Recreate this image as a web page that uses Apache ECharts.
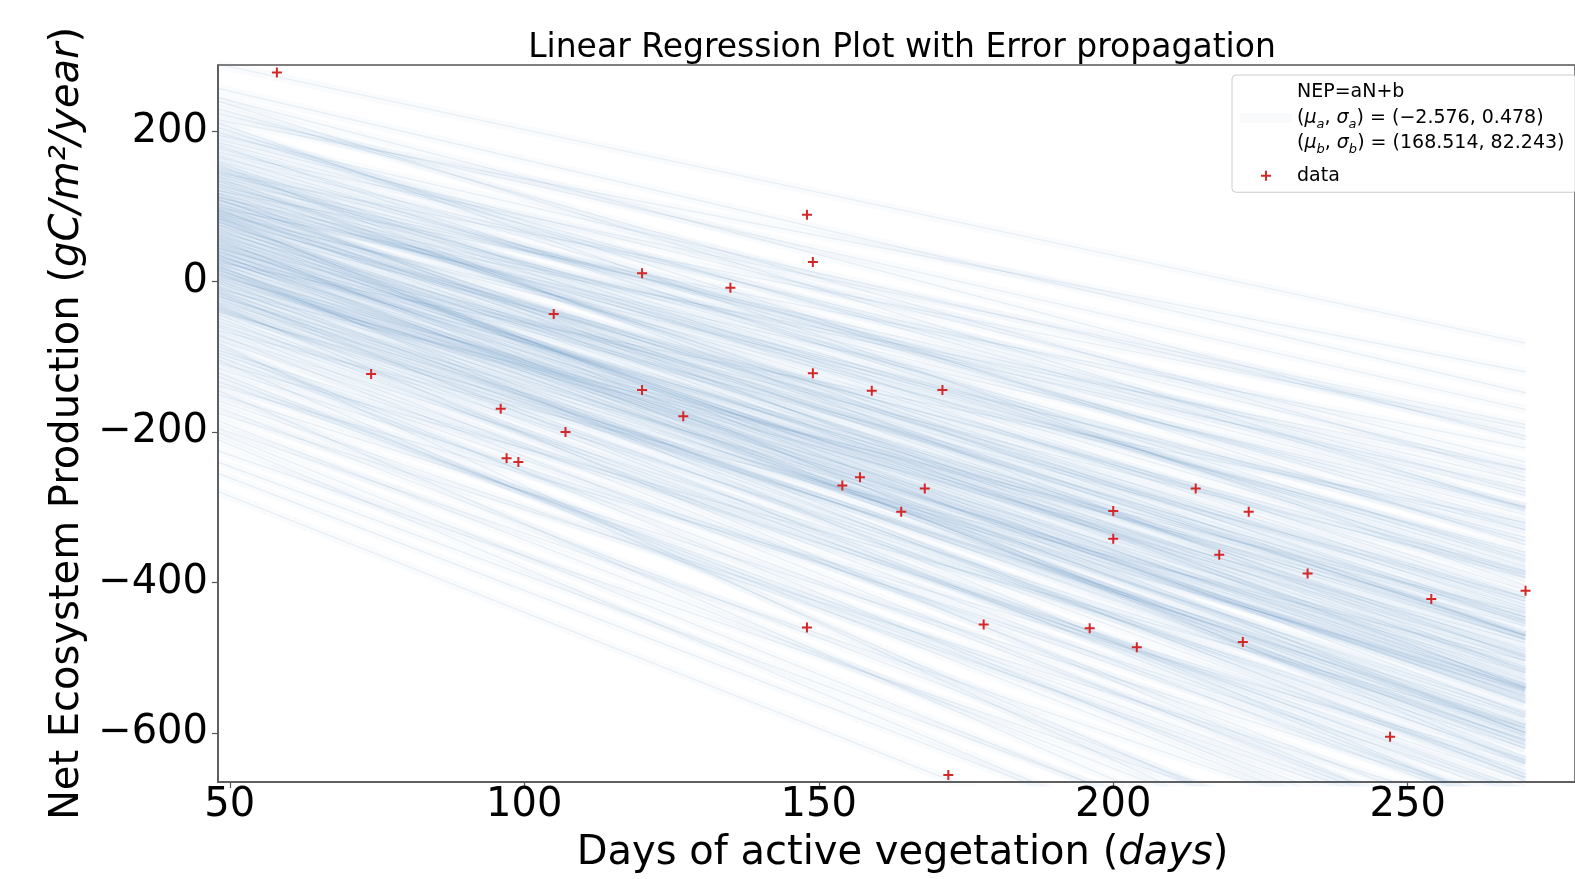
<!DOCTYPE html>
<html>
<head>
<meta charset="utf-8">
<title>Linear Regression Plot with Error propagation</title>
<script src="https://cdn.jsdelivr.net/npm/echarts@6/dist/echarts.min.js"></script>
<style>
  html, body { margin: 0; padding: 0; background: #fff; }
  #chart { width: 1575px; height: 879px; }
</style>
</head>
<body>
<div id="chart"></div>
<script>
// observed data: days of active vegetation vs NEP
const days = [58, 148, 149, 120, 135, 105, 74, 149, 120, 159, 96, 127, 107, 97, 99, 154, 157, 148,
  171, 168, 164, 214, 200, 223, 200, 218, 233, 254, 270, 178, 196, 204, 222, 247, 172]
const nep = [278, 89, 26, 11, -8, -43, -123, -122, -144, -145, -169, -179, -200, -235, -240, -271, -260, -460,
  -144, -275, -306, -275, -305, -306, -342, -363, -388, -422, -411, -456, -461, -486, -479, -605, -656]

// sampled regression lines (NEP at the two ends of the drawn range)
const lineX = [48, 270]
const lineStartY = [289, 257, 240, 223, 211, 198, 189, 181, 172, 168, 160, 155, 147, 143, 138, 130, 126, 121, 117, 113,
  109, 104, 100, 96, 92, 87, 83, 79, 75, 70, 68, 64, 60, 57, 53, 50, 47, 45, 42, 40,
  36, 33, 30, 26, 22, 19, 15, 11, 7, 2, -2, -6, -10, -14, -19, -23, -27, -31, -36, -40,
  -48, -53, -57, -65, -70, -78, -82, -91, -99, -108, -121, -133, -150, -167, -201, -279, -240,
  118, 102, 88, 76, 66, 58, 49, 38, 31, 24, 12, 4, -8, -16, -29, 134, 93, 55, 17, -44, 150, 80, 28,
  245, 230, 215, 205, 195, 185, 178, 165, 158, 152, 145, 140, 135, 128, 122, 112, 108, 98, 90, 85,
  -60, -72, -86, -95, -104, -115, -126, -138, -145, -158, -175, -185, -195, -210, -225, -255,
  72, 62, 44, 35, 20, 9, 0, -12, -20, -34, -38, 110, 95, 84]
const lineEndY = [-82, -148, -303, -170, -404, -300, -240, -393, -190, -370, -322, -518, -379, -284, -471, -372, -438, -221, -540, -364,
  -471, -446, -300, -539, -434, -641, -394, -491, -386, -553, -476, -542, -446, -632, -515, -389, -543, -476, -621, -504,
  -589, -452, -558, -320, -709, -551, -496, -603, -458, -655, -550, -616, -440, -708, -593, -659, -544, -761, -636, -541,
  -714, -609, -675, -504, -763, -664, -891, -650, -752, -593, -801, -758, -700, -834, -900, -965, -880,
  -410, -520, -468, -575, -425, -498, -560, -470, -612, -535, -578, -512, -572, -638, -590, -455, -360, -600, -660, -690, -430, -528, -488,
  -210, -260, -120, -350, -205, -280, -330, -250, -420, -300, -195, -345, -265, -310, -385, -275, -340, -250, -330, -420,
  -740, -620, -800, -700, -860, -680, -780, -640, -900, -760, -720, -860, -790, -940, -820, -920,
  -450, -530, -420, -560, -600, -540, -480, -610, -520, -680, -580, -500, -470, -600]

const xTicks = [50, 100, 150, 200, 250]
const yTicks = [-600, -400, -200, 0, 200]

const FONT = 'DejaVu Sans'
const minus = function (v) { return String(v).replace('-', '\u2212') }

const chart = echarts.init(document.getElementById('chart'))

const series = []
// thin pass gives the streaks, faint wide pass gives the haze
for (let i = 0; i < lineStartY.length; i++) {
  series.push({
    name: 'NEP', type: 'line', symbol: 'none', silent: true, z: 1,
    data: [[lineX[0], lineStartY[i]], [lineX[1], lineEndY[i]]],
    lineStyle: { color: '#4682b4', width: 1.2, opacity: 0.1 }
  })
  series.push({
    name: 'NEP', type: 'line', symbol: 'none', silent: true, z: 1,
    data: [[lineX[0], lineStartY[i]], [lineX[1], lineEndY[i]]],
    lineStyle: { color: '#4682b4', width: 9, opacity: 0.03 }
  })
}
series.push({
  name: 'data', type: 'scatter', z: 5,
  data: days.map(function (d, i) { return [d, nep[i]] }),
  symbol: 'path://M4,0h2v4h4v2h-4v4h-2v-4h-4v-2h4z',
  symbolSize: 10, symbolKeepAspect: true,
  itemStyle: { color: '#d62728', opacity: 1 }
})

const legendText = {
  t: { fontFamily: FONT, fontSize: 19, color: '#000', lineHeight: 25.5 },
  i: { fontFamily: FONT, fontSize: 19, fontStyle: 'italic', color: '#000', lineHeight: 25.5 },
  s: { fontFamily: FONT, fontSize: 13, fontStyle: 'italic', color: '#000', lineHeight: 13, verticalAlign: 'bottom' }
}

chart.setOption({
  animation: false,
  backgroundColor: '#fff',
  title: {
    text: 'Linear Regression Plot with Error propagation',
    left: 897, top: 27, textAlign: 'center',
    textStyle: { fontFamily: FONT, fontSize: 33, fontWeight: 'normal', color: '#000' }
  },
  legend: {
    orient: 'vertical', left: 1232, top: 75,
    padding: [8, 12, 7, 8], itemGap: 10,
    itemWidth: 52, itemHeight: 10,
    backgroundColor: 'rgba(255,255,255,0.85)',
    borderColor: '#cccccc', borderWidth: 1, borderRadius: 4,
    data: [
      { name: 'NEP', icon: 'rect', itemStyle: { color: 'rgba(70,130,180,0.04)' } },
      { name: 'data' }
    ],
    formatter: function (name) {
      if (name === 'NEP') {
        return '{t|NEP=aN+b}\n' +
          '{t|(}{i|\u03bc}{s|a}{t|, }{i|\u03c3}{s|a}{t|) = (\u22122.576, 0.478)}\n' +
          '{t|(}{i|\u03bc}{s|b}{t|, }{i|\u03c3}{s|b}{t|) = (168.514, 82.243)}'
      }
      return '{t|data}'
    },
    textStyle: { rich: legendText }
  },
  grid: {
    left: 218, top: 65, right: -2, bottom: 96,
    show: true, borderColor: '#555', borderWidth: 1.5
  },
  xAxis: {
    type: 'value', min: 48, max: 278.4,
    name: 'Days of active vegetation ({i|days})',
    nameLocation: 'middle', nameGap: 52,
    nameTextStyle: {
      fontFamily: FONT, fontSize: 40, color: '#000', padding: [0, 0, 0, 12],
      rich: { i: { fontFamily: FONT, fontSize: 40, fontStyle: 'italic', color: '#000' } }
    },
    splitLine: { show: false },
    axisLine: { show: true, onZero: false, lineStyle: { color: '#555', width: 1.5 } },
    axisTick: { show: true, length: 6, customValues: xTicks, lineStyle: { color: '#555', width: 1.2 } },
    axisLabel: {
      customValues: xTicks, margin: 4,
      fontFamily: FONT, fontSize: 40, color: '#000'
    }
  },
  yAxis: {
    type: 'value', min: -665.3, max: 288,
    name: 'Net Ecosystem Production ({i|gC/m\u00b2/year})',
    nameLocation: 'middle', nameGap: 130, nameRotate: 90,
    nameTextStyle: {
      fontFamily: FONT, fontSize: 40, color: '#000',
      rich: { i: { fontFamily: FONT, fontSize: 40, fontStyle: 'italic', color: '#000' } }
    },
    splitLine: { show: false },
    axisLine: { show: true, onZero: false, lineStyle: { color: '#555', width: 1.5 } },
    axisTick: { show: true, length: 6, customValues: yTicks, lineStyle: { color: '#555', width: 1.2 } },
    axisLabel: {
      customValues: yTicks, margin: 10,
      fontFamily: FONT, fontSize: 40, color: '#000',
      formatter: minus
    }
  },
  series: series
})
</script>
</body>
</html>
